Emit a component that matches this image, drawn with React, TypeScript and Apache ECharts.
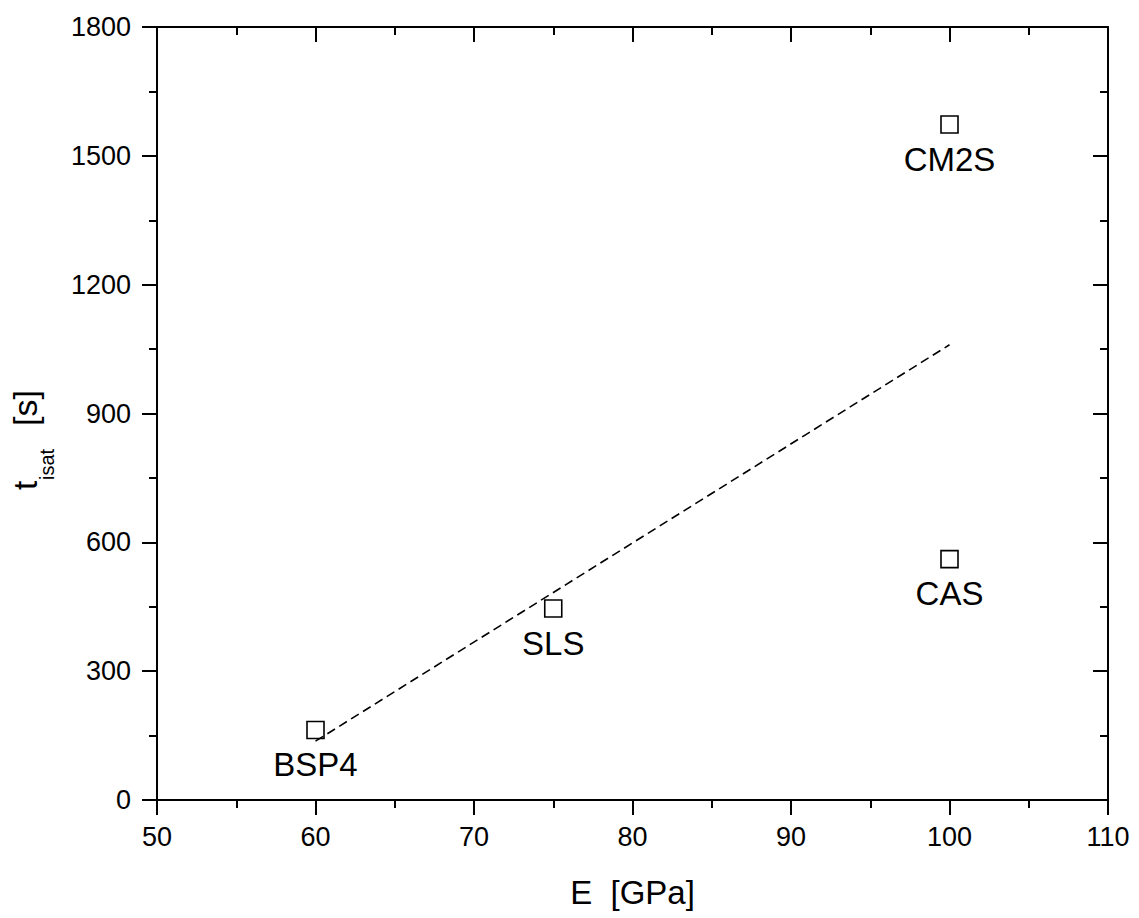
import React, { useEffect, useRef } from 'react';
import * as echarts from 'echarts';

// Data
const materials = ['BSP4', 'SLS', 'CM2S', 'CAS'];
const modulusGPa = [60, 75, 100, 100];
const saturationTime = [163, 446, 1573, 561];

// Dashed linear fit end points
const fitModulus = [60, 100];
const fitTime = [137, 1060];

// Axis ranges
const xRange = [50, 110];
const xStep = 10;
const yRange = [0, 1800];
const yStep = 300;

const FONT = '"Liberation Sans", Arial, Helvetica, sans-serif';

export default function App() {
  const ref = useRef<HTMLDivElement>(null);

  useEffect(() => {
    if (!ref.current) return;
    const chart = echarts.init(ref.current, undefined, { renderer: 'svg' });

    const axisLine = { show: true, onZero: false, lineStyle: { color: '#000', width: 2 } };
    const majorTick = (inside: boolean) => ({
      show: true,
      inside,
      length: 15,
      lineStyle: { color: '#000', width: 2 },
    });
    const minorTick = { show: true, splitNumber: 2, length: 8, lineStyle: { color: '#000', width: 2 } };

    const points = materials.map((m, i) => ({ name: m, value: [modulusGPa[i], saturationTime[i]] }));
    const fit = fitModulus.map((x, i) => [x, fitTime[i]]);

    chart.setOption({
      animation: false,
      backgroundColor: '#fff',
      textStyle: { fontFamily: FONT },
      grid: { left: 157, right: 31, top: 27, bottom: 118, containLabel: false },
      xAxis: [
        {
          type: 'value',
          position: 'bottom',
          min: xRange[0],
          max: xRange[1],
          interval: xStep,
          axisLine,
          axisTick: majorTick(false),
          minorTick,
          splitLine: { show: false },
          axisLabel: { color: '#000', fontSize: 27, fontFamily: FONT, margin: 23, formatter: (v: number) => String(v) },
          name: 'E  [GPa]',
          nameLocation: 'middle',
          nameGap: 76,
          nameTextStyle: { color: '#000', fontSize: 33, fontFamily: FONT },
        },
        {
          type: 'value',
          position: 'top',
          min: xRange[0],
          max: xRange[1],
          interval: xStep,
          axisLine,
          axisTick: majorTick(true),
          minorTick,
          splitLine: { show: false },
          axisLabel: { show: false },
        },
      ],
      yAxis: [
        {
          type: 'value',
          position: 'left',
          min: yRange[0],
          max: yRange[1],
          interval: yStep,
          axisLine,
          axisTick: majorTick(false),
          minorTick,
          splitLine: { show: false },
          axisLabel: { color: '#000', fontSize: 27, fontFamily: FONT, margin: 26, formatter: (v: number) => String(v) },
        },
        {
          type: 'value',
          position: 'right',
          min: yRange[0],
          max: yRange[1],
          interval: yStep,
          axisLine,
          axisTick: majorTick(true),
          minorTick,
          splitLine: { show: false },
          axisLabel: { show: false },
        },
      ],
      graphic: [
        {
          type: 'group',
          x: 35,
          y: 490,
          rotation: Math.PI / 2,
          children: [
            {
              type: 'text',
              x: 0,
              y: 7,
              style: { text: 't', fontSize: 33, fontFamily: FONT, fill: '#000', align: 'left', verticalAlign: 'bottom' },
            },
            {
              type: 'text',
              x: 10,
              y: 22,
              style: { text: 'isat', fontSize: 20, fontFamily: FONT, fill: '#000', align: 'left', verticalAlign: 'bottom' },
            },
            {
              type: 'text',
              x: 64,
              y: 7,
              style: { text: '[s]', fontSize: 34, fontFamily: FONT, fill: '#000', align: 'left', verticalAlign: 'bottom' },
            },
          ],
        },
      ],
      series: [
        {
          type: 'line',
          xAxisIndex: 0,
          yAxisIndex: 0,
          data: fit,
          showSymbol: false,
          symbol: 'none',
          lineStyle: { color: '#000', width: 1.6, type: [9, 5] },
          silent: true,
          z: 1,
        },
        {
          type: 'scatter',
          xAxisIndex: 0,
          yAxisIndex: 0,
          data: points,
          symbol: 'rect',
          symbolSize: 17,
          itemStyle: { color: 'rgba(255,255,255,0)', borderColor: '#000', borderWidth: 1.6, opacity: 1 },
          label: {
            show: true,
            position: 'bottom',
            distance: 9,
            formatter: (p: any) => p.name,
            color: '#000',
            fontSize: 33,
            fontFamily: FONT,
          },
          z: 3,
        },
      ],
    });

    return () => chart.dispose();
  }, []);

  return (
    <div
      ref={ref}
      style={{ position: 'absolute', left: 0, top: 0, width: 1139, height: 918, background: '#fff' }}
    />
  );
}
